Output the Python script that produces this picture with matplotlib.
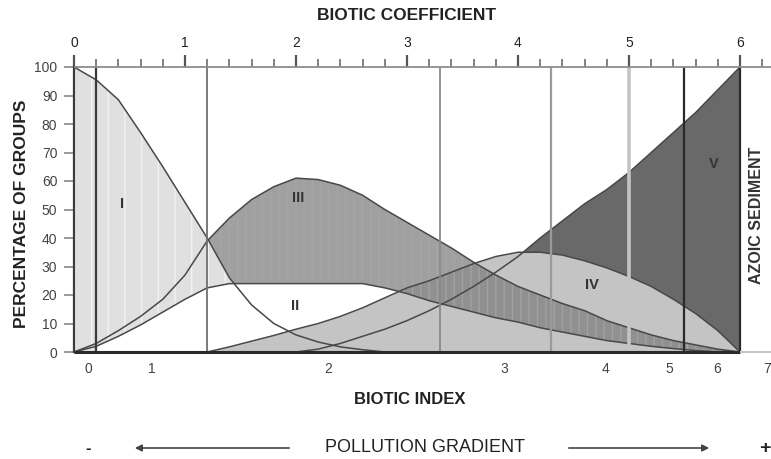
import numpy as np
import matplotlib
matplotlib.use("Agg")
import matplotlib.pyplot as plt

plt.rcParams['font.family'] = ['Liberation Sans Narrow', 'Liberation Sans', 'DejaVu Sans']

# ---- data ----
# biotic coefficient grid (step 0.2)
bc = np.round(np.arange(0, 31) * 0.2, 1)

grp_I = [100, 95.5, 88.5, 77, 65, 52.5, 40, 26, 16.5, 10, 6, 3.5, 1.8, 0.8, 0,
         0, 0, 0, 0, 0, 0, 0, 0, 0, 0, 0, 0, 0, 0, 0, 0]
grp_II = [0, 2, 5.5, 9.5, 14, 18.5, 22.5, 24, 24, 24, 24, 24, 24, 24, 22.5,
          20.5, 18, 16, 14, 12, 10.5, 8.5, 7, 5.5, 4, 3, 2, 1.2, 0.5, 0, 0]
grp_III = [0, 3, 7.5, 12.5, 18.5, 27, 39, 47, 53.5, 58, 61, 60.5, 58.5, 55, 50,
           45.5, 41, 36.5, 31.5, 27, 23, 20, 17, 14.5, 11, 8.5, 6, 4, 2.5, 1, 0]
grp_IV = [0, 0, 0, 0, 0, 0, 0, 1.8, 3.8, 5.8, 8, 10, 12.5, 15.5, 19,
          22.5, 25, 28, 31, 33.5, 35, 35, 34, 32, 29.5, 26.5, 23, 18.5, 13.5, 7.5, 0]
grp_V = [0, 0, 0, 0, 0, 0, 0, 0, 0, 0, 0, 1, 3, 5.5, 8,
         11, 14.5, 18.5, 23, 28, 33.5, 40, 46, 52, 57, 63, 70, 77, 84, 92, 100]

# class boundaries (biotic coefficient) drawn as vertical lines
bounds = [0.2, 1.2, 3.3, 4.3, 5.0, 5.5, 6.0]
bound_colors = ['#3a3a3a', '#707070', '#8a8a8a', '#9a9a9a', '#c4c4c4', '#2a2a2a', '#2a2a2a']
bound_widths = [1.6, 1.3, 1.3, 1.6, 2.6, 1.6, 1.6]

# biotic index labels on the bottom axis
bi_pos = [0.13, 0.70, 2.29, 3.88, 4.79, 5.36, 5.79, 6.24]
bi_labels = ['0', '1', '2', '3', '4', '5', '6', '7']

roman = ['I', 'II', 'III', 'IV', 'V']
roman_xy = [(0.43, 52), (1.99, 16), (2.02, 54), (4.67, 23.5), (5.76, 66)]

bc = np.asarray(bc)
I, II, III, IV, V = (np.asarray(a, dtype=float) for a in (grp_I, grp_II, grp_III, grp_IV, grp_V))

# ---- figure ----
fig = plt.figure(figsize=(7.71, 4.59), dpi=100)
ax = fig.add_axes([74 / 771, 107 / 459, 697 / 771, 285 / 459])
xmax = 697 / 111
ax.set_xlim(0, xmax)
ax.set_ylim(0, 100)

line_c = '#484848'

# IV (light) and V (dark)
on4 = bc >= 1.2
ax.fill_between(bc, 0, IV, where=on4, color='#c4c4c4', lw=0, zorder=1)
ax.fill_between(bc, IV, V, where=V >= IV, interpolate=True, color='#696969', lw=0, zorder=1.2)

# III (dark stripes)
on3 = bc >= 1.2
ax.fill_between(bc, II, III, where=on3, facecolor='#7c7c7c', edgecolor='#a8a8a8',
                hatch='||', alpha=0.72, lw=0, zorder=1.5)

# I (light stripes)
left = bc <= 0.2
ax.fill_between(bc, 0, I, where=left, facecolor='#e0e0e0', edgecolor='#f2f2f2',
                hatch='|', lw=0, zorder=2)
right = (bc >= 0.2) & (bc <= 1.6)
ax.fill_between(bc[right], II[right], I[right], where=I[right] >= II[right],
                interpolate=True, facecolor='#e0e0e0', edgecolor='#f2f2f2',
                hatch='|', lw=0, zorder=2)

# curves
ax.plot(bc[bc <= 2.8], I[bc <= 2.8], color=line_c, lw=1.1, zorder=3)
ax.plot(bc, II, color=line_c, lw=1.1, zorder=3)
ax.plot(bc, III, color=line_c, lw=1.1, zorder=3)
ax.plot(bc[on4], IV[on4], color=line_c, lw=1.1, zorder=3)
ax.plot(bc[bc >= 2.0], V[bc >= 2.0], color=line_c, lw=1.1, zorder=3)

# class boundaries
for b, c, w in zip(bounds, bound_colors, bound_widths):
    ax.vlines(b, 0, 100, color=c, lw=w, zorder=4)

# axes lines
for s in ['top', 'right', 'bottom']:
    ax.spines[s].set_visible(False)
ax.spines['left'].set_color('#3a3a3a')
ax.spines['left'].set_linewidth(1.6)
ax.hlines(100, 0, xmax, color='#8c8c8c', lw=1.3, clip_on=False, zorder=4)
ax.hlines(0, 0, 6.0, color='#2a2a2a', lw=2.2, clip_on=False, zorder=5)
ax.hlines(0, 6.0, xmax, color='#c8c8c8', lw=1.5, clip_on=False, zorder=5)

# top axis: biotic coefficient
ax.xaxis.tick_top()
ax.set_xticks(range(0, 7))
ax.set_xticks(np.arange(0, 6.3, 0.2), minor=True)
ax.tick_params(axis='x', which='major', direction='out', length=9, width=1.6,
               color='#555555', pad=3, labelsize=10, labelcolor='#222222')
ax.tick_params(axis='x', which='minor', direction='out', length=6, width=1.3,
               color='#777777')

# left axis
ax.set_yticks(range(0, 101, 10))
ax.tick_params(axis='y', direction='out', length=7, width=1.2, color='#888888',
               pad=5, labelsize=10, labelcolor='#444444')

# bottom: biotic index
sec = ax.secondary_xaxis('bottom')
sec.set_xticks(bi_pos, labels=bi_labels)
sec.tick_params(length=0, pad=7, labelsize=10, labelcolor='#444444')
sec.spines['bottom'].set_visible(False)

# group labels
for r, (x, y) in zip(roman, roman_xy):
    ax.text(x, y, r, ha='center', va='center', fontsize=10.5, fontweight='bold',
            color='#333333', zorder=6)

ax.text(6.15, 48, 'AZOIC SEDIMENT', rotation=90, ha='center', va='center',
        fontsize=11.5, fontweight='bold', color='#333333', zorder=6)

fig.text(407 / 771, 1 - 15 / 459, 'BIOTIC COEFFICIENT', ha='center', va='center',
         fontsize=12.5, fontweight='bold', color='#222222')
fig.text(22 / 771, 1 - 214 / 459, 'PERCENTAGE OF GROUPS', ha='center', va='center',
         rotation=90, fontsize=12.5, fontweight='bold', color='#222222')
fig.text(410 / 771, 1 - 399 / 459, 'BIOTIC INDEX', ha='center', va='center',
         fontsize=12, fontweight='bold', color='#222222')
fig.text(425 / 771, 1 - 448 / 459, 'POLLUTION GRADIENT', ha='center', va='center',
         fontsize=13, color='#222222')
fig.text(88 / 771, 1 - 448 / 459, '-', ha='center', va='center', fontsize=12,
         fontweight='bold', color='#222222')
fig.text(765 / 771, 1 - 448 / 459, '+', ha='center', va='center', fontsize=14,
         fontweight='bold', color='#222222')

arrow_kw = dict(arrowstyle='-|>', color='#444444', lw=1.2, mutation_scale=10)
ax.annotate('', xy=(132, 11), xytext=(292, 11), xycoords='figure pixels',
            textcoords='figure pixels', arrowprops=arrow_kw)
ax.annotate('', xy=(712, 11), xytext=(566, 11), xycoords='figure pixels',
            textcoords='figure pixels', arrowprops=arrow_kw)

fig.savefig('out.png', dpi=100)
